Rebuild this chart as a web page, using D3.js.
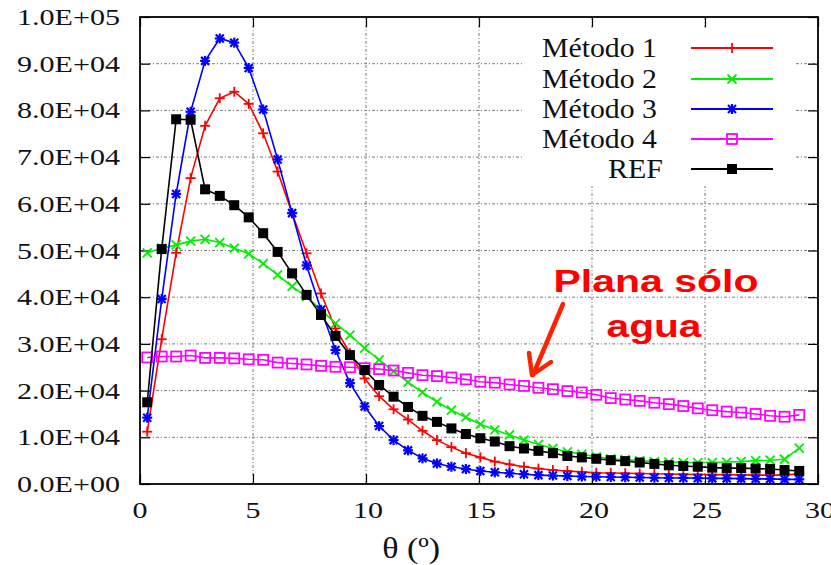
<!DOCTYPE html>
<html>
<head>
<meta charset="utf-8">
<script src="https://cdn.jsdelivr.net/npm/d3@7/dist/d3.min.js"></script>
<style>
  html, body { margin: 0; padding: 0; background: #fff; }
  svg { display: block; }
  .serif { font-family: "Liberation Serif", "Times New Roman", Times, serif; }
  .sansb { font-family: "Liberation Sans", Arial, Helvetica, sans-serif; font-weight: bold; }
</style>
</head>
<body>
<svg id="chart" width="831" height="565"></svg>
<script>
// ---------------- data ----------------
const theta = [0.32, 0.96, 1.60, 2.24, 2.88, 3.53, 4.17, 4.81, 5.45, 6.09,
  6.73, 7.37, 8.01, 8.65, 9.29, 9.94, 10.58, 11.22, 11.86, 12.50,
  13.14, 13.78, 14.42, 15.06, 15.70, 16.35, 16.99, 17.63, 18.27, 18.91,
  19.55, 20.19, 20.83, 21.47, 22.11, 22.76, 23.40, 24.04, 24.68, 25.32,
  25.96, 26.60, 27.24, 27.88, 28.52, 29.17];

const metodo1 = [11200, 31000, 49500, 65500, 76700, 82600, 84000, 81400, 75100, 66900,
  58000, 49400, 40800, 33300, 28000, 22600, 18800, 16000, 13800, 11400,
  9400, 7900, 6600, 5700, 4800, 4200, 3700, 3300, 3000, 2800,
  2600, 2400, 2350, 2300, 2250, 2200, 2150, 2100, 2050, 2000,
  2000, 1950, 1900, 1900, 1900, 2200];

const metodo2 = [49500, 50500, 51200, 52000, 52400, 51700, 50500, 49300, 47200, 44800,
  42300, 40100, 37300, 34400, 31900, 29100, 26600, 24100, 21800, 19600,
  17600, 15800, 14300, 12800, 11600, 10500, 9400, 8500, 7600, 6900,
  6400, 5800, 5400, 5200, 5000, 4800, 4700, 4600, 4600, 4600,
  4700, 4800, 5000, 5100, 5300, 7700];

const metodo3 = [14200, 39600, 62100, 79700, 90600, 95400, 94500, 89100, 80200, 69500,
  58000, 46800, 37300, 28700, 21600, 16600, 12400, 9400, 7200, 5500,
  4400, 3700, 3200, 2800, 2500, 2300, 2100, 1900, 1800, 1700,
  1600, 1550, 1500, 1450, 1400, 1350, 1300, 1300, 1250, 1200,
  1200, 1150, 1100, 1100, 1000, 1000];

const metodo4 = [27100, 27300, 27300, 27500, 27000, 27000, 26900, 26700, 26600, 26000,
  25800, 25600, 25300, 25100, 25000, 24800, 24600, 24300, 23800, 23300,
  23100, 22800, 22400, 21900, 21700, 21300, 21000, 20600, 20300, 19900,
  19600, 19100, 18400, 18100, 17800, 17400, 17100, 16700, 16200, 15800,
  15500, 15300, 15000, 14600, 14400, 14800];

const ref = [17500, 50300, 78100, 78000, 63100, 61700, 59700, 57100, 53700, 49700,
  45100, 40500, 36200, 31700, 27600, 24400, 21200, 18700, 16500, 14600,
  13300, 11900, 10700, 9800, 9100, 8100, 7600, 7100, 6600, 6000,
  5700, 5400, 5100, 4900, 4600, 4300, 4000, 3850, 3700, 3500,
  3400, 3400, 3300, 3200, 3000, 2800];

const seriesNames = ["Método 1", "Método 2", "Método 3", "Método 4", "REF"];
const xTicks = [0, 5, 10, 15, 20, 25, 30];
const yTicks = [0, 10000, 20000, 30000, 40000, 50000, 60000, 70000, 80000, 90000, 100000];
const yTickLabels = ["0.0E+00", "1.0E+04", "2.0E+04", "3.0E+04", "4.0E+04", "5.0E+04",
  "6.0E+04", "7.0E+04", "8.0E+04", "9.0E+04", "1.0E+05"];
const xLabel = "θ (º)";
const annotationLines = ["Plana sólo", "agua"];

// ---------------- layout ----------------
const svg = d3.select("#chart");
const L = 140, R = 818, T = 17, B = 484;
const x = d3.scaleLinear().domain([0, 30]).range([L, R]);
const y = d3.scaleLinear().domain([0, 100000]).range([B, T]);

// grid
const grid = svg.append("g");
grid.selectAll("line.gx").data(xTicks.slice(1, -1)).join("line")
  .attr("x1", d => x(d)).attr("x2", d => x(d)).attr("y1", T).attr("y2", B)
  .attr("stroke", "#7a7a7a").attr("stroke-width", 1).attr("stroke-dasharray", "3,2,1,2");
grid.selectAll("line.gy").data(yTicks.slice(1, -1)).join("line")
  .attr("x1", L).attr("x2", R).attr("y1", d => y(d)).attr("y2", d => y(d))
  .attr("stroke", "#7a7a7a").attr("stroke-width", 1).attr("stroke-dasharray", "3,2,1,2");

// legend background covers grid
svg.append("rect").attr("x", 522).attr("y", 28).attr("width", 274).attr("height", 158).attr("fill", "#fff");

// axes (inner ticks, mirrored)
const axL = d3.axisLeft(y).tickValues(yTicks).tickSize(-10).tickFormat("");
const axR = d3.axisRight(y).tickValues(yTicks).tickSize(-10).tickFormat("");
const axB = d3.axisBottom(x).tickValues(xTicks).tickSize(-10).tickFormat("");
const axT = d3.axisTop(x).tickValues(xTicks).tickSize(-10).tickFormat("");
[[axL, `translate(${L},0)`], [axR, `translate(${R},0)`], [axB, `translate(0,${B})`], [axT, `translate(0,${T})`]]
  .forEach(([ax, tr]) => {
    const g = svg.append("g").attr("transform", tr).call(ax);
    g.select(".domain").remove();
    g.selectAll("line").attr("stroke", "#000").attr("stroke-width", 1.2);
  });

// tick labels
svg.append("g").selectAll("text").data(yTicks).join("text")
  .attr("class", "serif")
  .attr("x", 120).attr("y", d => y(d) + 8)
  .attr("text-anchor", "end")
  .attr("font-size", 23)
  .attr("textLength", 103).attr("lengthAdjust", "spacingAndGlyphs")
  .attr("fill", "#111")
  .text((d, i) => yTickLabels[i]);

svg.append("g").selectAll("text").data(xTicks).join("text")
  .attr("class", "serif")
  .attr("x", d => x(d) + (d >= 10 ? 2 : 0)).attr("y", 518)
  .attr("text-anchor", "middle")
  .attr("font-size", 24)
  .attr("textLength", d => String(d).length * 15)
  .attr("lengthAdjust", "spacingAndGlyphs")
  .attr("fill", "#111")
  .text(d => d);

svg.append("text").attr("class", "serif")
  .attr("x", x(12)).attr("y", 558)
  .attr("text-anchor", "middle")
  .attr("font-size", 30)
  .attr("textLength", 58).attr("lengthAdjust", "spacingAndGlyphs")
  .attr("fill", "#111")
  .text(xLabel);

// ---------------- series ----------------
const series = [
  { name: seriesNames[0], values: metodo1, color: "#ff0000", marker: "plus" },
  { name: seriesNames[1], values: metodo2, color: "#00ee00", marker: "cross" },
  { name: seriesNames[2], values: metodo3, color: "#0000ff", marker: "star" },
  { name: seriesNames[3], values: metodo4, color: "#ff00ff", marker: "openSquare" },
  { name: seriesNames[4], values: ref, color: "#000000", marker: "square" }
];

function drawMarker(g, type, cx, cy, color) {
  const h = 5;
  const sw = type === "star" ? 2.2 : 1.8;
  if (type === "plus" || type === "star") {
    g.append("line").attr("x1", cx - h).attr("x2", cx + h).attr("y1", cy).attr("y2", cy)
      .attr("stroke", color).attr("stroke-width", sw);
    g.append("line").attr("x1", cx).attr("x2", cx).attr("y1", cy - h).attr("y2", cy + h)
      .attr("stroke", color).attr("stroke-width", sw);
  }
  if (type === "cross" || type === "star") {
    const k = type === "star" ? 4 : 4.5;
    g.append("line").attr("x1", cx - k).attr("x2", cx + k).attr("y1", cy - k).attr("y2", cy + k)
      .attr("stroke", color).attr("stroke-width", sw);
    g.append("line").attr("x1", cx - k).attr("x2", cx + k).attr("y1", cy + k).attr("y2", cy - k)
      .attr("stroke", color).attr("stroke-width", sw);
  }
  if (type === "openSquare") {
    g.append("rect").attr("x", cx - 5).attr("y", cy - 5).attr("width", 10).attr("height", 10)
      .attr("fill", "none").attr("stroke", color).attr("stroke-width", 1.8);
  }
  if (type === "square") {
    g.append("rect").attr("x", cx - 5).attr("y", cy - 5).attr("width", 10).attr("height", 10)
      .attr("fill", color);
  }
}

const line = d3.line().x(d => x(d[0])).y(d => y(d[1]));
const plotG = svg.append("g");
series.forEach(s => {
  const pts = theta.map((t, i) => [t, s.values[i]]);
  const g = plotG.append("g");
  g.append("path").datum(pts).attr("d", line)
    .attr("fill", "none").attr("stroke", s.color).attr("stroke-width", 1.6);
  pts.forEach(p => drawMarker(g, s.marker, x(p[0]), y(p[1]), s.color));
});

// legend
const legendRowY = [48, 79, 109, 139, 169];
series.forEach((s, i) => {
  const ly = legendRowY[i];
  const t = svg.append("text").attr("class", "serif")
    .attr("x", s.name === "REF" ? 663 : 657).attr("y", ly + 9)
    .attr("text-anchor", "end").attr("font-size", 27)
    .attr("fill", "#111").text(s.name);
  if (s.name !== "REF") t.attr("textLength", 115).attr("lengthAdjust", "spacingAndGlyphs");
  else t.attr("textLength", 55).attr("lengthAdjust", "spacingAndGlyphs");
  svg.append("line").attr("x1", 691).attr("x2", 773).attr("y1", ly).attr("y2", ly)
    .attr("stroke", s.color).attr("stroke-width", 1.8);
  drawMarker(svg.append("g"), s.marker, 732, ly, s.color);
});

// border
svg.append("rect").attr("x", L).attr("y", T).attr("width", R - L).attr("height", B - T)
  .attr("fill", "none").attr("stroke", "#000").attr("stroke-width", 1.8);

// annotation
const ann = svg.append("g").attr("class", "sansb")
  .attr("fill", "#ff0000").attr("text-anchor", "middle");
ann.append("text").attr("x", 656).attr("y", 292).attr("font-size", 32)
  .attr("textLength", 205).attr("lengthAdjust", "spacingAndGlyphs").text(annotationLines[0]);
ann.append("text").attr("x", 654).attr("y", 337).attr("font-size", 32)
  .attr("textLength", 95).attr("lengthAdjust", "spacingAndGlyphs").text(annotationLines[1]);

const arrow = svg.append("g").attr("stroke", "#ff2200").attr("stroke-width", 4.5)
  .attr("stroke-linecap", "round").attr("fill", "none");
arrow.append("line").attr("x1", 563).attr("y1", 304).attr("x2", 533).attr("y2", 375);
arrow.append("polyline").attr("points", "529,353 532,375 551,362").attr("stroke-linejoin", "round");
</script>
</body>
</html>
